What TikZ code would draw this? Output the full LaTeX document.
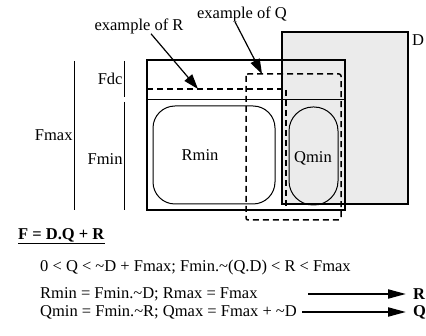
\documentclass[tikz,border=0pt]{standalone}
\usepackage{fontspec}
\setmainfont{Liberation Serif}
\usetikzlibrary{arrows.meta}

\tikzset{
    lbl/.style={font=\fontsize{16.5}{18}\selectfont, inner sep=0pt},
    frame/.style={line width=1.8pt},
    divider/.style={line width=0.9pt},
    bar/.style={line width=1pt},
    soft/.style={line width=1pt},
    example/.style={line width=1.5pt, dash pattern=on 6pt off 4pt},
    pointer/.style={line width=1.2pt, -{Triangle[length=15pt,width=10pt]}},
    outarrow/.style={line width=2pt, -{Triangle[length=18pt,width=9pt]}},
    dfill/.style={fill=black!8},
}

\begin{document}
\begin{tikzpicture}[x=1pt, y=-1pt]
    \useasboundingbox (0,0) rectangle (426,336);

    % Draw the shaded D region
    \fill[dfill] (282,32) rectangle (408,204);
    \draw[frame] (282,32) rectangle (408,204);
    \node[lbl, anchor=west] (dlab) at (412,40) {D};

    % Draw the F box with the Fdc / Fmin split
    \draw[frame] (147,60) rectangle (345,210);
    \draw[divider] (147,99) -- (345,99);

    % Draw the minimum regions
    \draw[soft, rounded corners=22pt] (153,106) rectangle (275,204);
    \draw[soft, rounded corners=24pt] (289,107) rectangle (338,205);
    \node[lbl] (rmin) at (200,155) {Rmin};
    \node[lbl] (qmin) at (313,158) {Qmin};

    % Draw the example regions (dashed)
    \draw[example] (147,89) -- (286,89) -- (286,210);
    \draw[example, rounded corners=2pt] (246,74) rectangle (341,220);

    % Pointers to the examples
    \node[lbl] (exR) at (139,26) {example of R};
    \node[lbl] (exQ) at (242,14) {example of Q};
    \coordinate (tipR) at (198,89);
    \coordinate (tipQ) at (262,74);
    \draw[pointer] ([xshift=12pt]exR.south) -- (tipR);
    \draw[pointer] ([xshift=-7pt]exQ.south) -- (tipQ);

    % Draw the brackets on the left
    \draw[bar] (74,61) -- (74,210) node[lbl, midway, left=1pt] (fmax) {Fmax};
    \draw[bar] (124,61) -- (124,97) node[lbl, midway, left=1pt] (fdc) {Fdc};
    \draw[bar] (124,102) -- (124,210) node[lbl, pos=0.53, left=1pt] (fmin) {Fmin};

    % Relations below the picture
    \node[lbl, anchor=west] (feq) at (18,236) {\underline{\textbf{F = D.Q + R}}};
    \node[lbl, anchor=west] (bounds) at (40,268) {0 < Q < \textasciitilde D + Fmax; Fmin.\textasciitilde(Q.D) < R < Fmax};
    \node[lbl, anchor=west] (rline) at (40,294) {Rmin = Fmin.\textasciitilde D; Rmax = Fmax};
    \node[lbl, anchor=west] (qline) at (40,312) {Qmin = Fmin.\textasciitilde R; Qmax = Fmax + \textasciitilde D};
    \node[lbl, anchor=west, font=\bfseries\fontsize{16.5}{18}\selectfont] (rout) at (413,294) {R};
    \node[lbl, anchor=west, font=\bfseries\fontsize{16.5}{18}\selectfont] (qout) at (413,312) {Q};
    \coordinate (rstart) at (308,294);
    \draw[outarrow] (rstart) -- ([xshift=-7pt]rout.west);
    \draw[outarrow] ([xshift=5pt]qline.east) -- ([xshift=-7pt]qout.west);
\end{tikzpicture}
\end{document}
